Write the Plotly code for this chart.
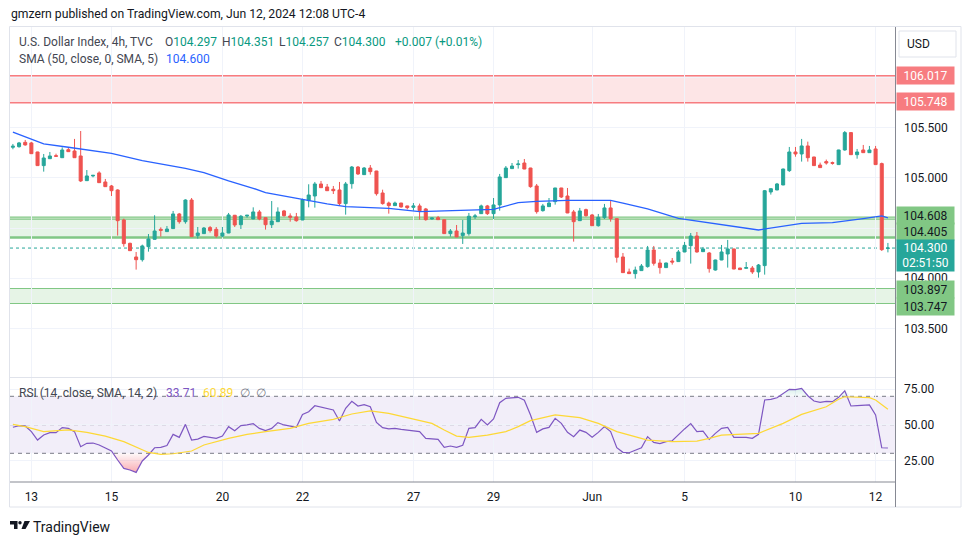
import plotly.graph_objects as go

# ---------------- data ----------------
candle_idx = list(range(143))
opens = [105.305,105.311,105.354,105.348,105.258,105.122,105.191,105.221,105.201,105.281,
         105.268,105.218,104.972,105.019,105.049,104.959,104.919,104.879,104.580,104.347,
         104.211,104.184,104.314,104.387,104.487,104.464,104.494,104.640,104.563,104.779,
         104.424,104.444,104.504,104.487,104.420,104.450,104.627,104.533,104.620,104.590,
         104.660,104.603,104.533,104.563,104.670,104.620,104.610,104.580,104.773,104.819,
         104.939,104.909,104.886,104.879,104.743,104.942,105.108,105.032,105.098,105.068,
         104.849,104.749,104.723,104.749,104.720,104.706,104.720,104.690,104.590,104.603,
         104.583,104.444,104.470,104.424,104.444,104.613,104.643,104.720,104.643,104.730,
         105.002,105.092,105.132,105.148,105.098,104.919,104.673,104.713,104.763,104.899,
         104.819,104.660,104.573,104.683,104.630,104.523,104.603,104.700,104.593,104.211,
         104.062,104.045,104.075,104.115,104.281,104.151,104.105,104.171,104.165,104.261,
         104.324,104.420,104.264,104.251,104.081,104.181,104.241,104.291,104.101,104.098,
         104.101,104.062,104.125,104.859,104.879,104.929,105.072,105.258,105.238,105.318,
         105.208,105.128,105.162,105.152,105.132,105.278,105.451,105.231,105.278,105.251,
         105.288,105.142,104.297]
highs = [105.338,105.358,105.378,105.358,105.260,105.238,105.258,105.241,105.304,105.304,
         105.388,105.467,105.078,105.026,105.065,104.989,104.929,104.886,104.593,104.354,
         104.261,104.334,104.440,104.627,104.507,104.520,104.670,104.650,104.786,104.799,
         104.510,104.510,104.520,104.510,104.510,104.650,104.630,104.630,104.628,104.706,
         104.680,104.605,104.769,104.706,104.680,104.646,104.650,104.793,104.936,104.959,
         104.969,104.939,104.919,104.959,104.959,105.118,105.118,105.108,105.128,105.070,
         104.882,104.763,104.763,104.750,104.722,104.749,104.743,104.700,104.601,104.620,
         104.585,104.490,104.530,104.580,104.650,104.640,104.733,104.730,104.799,105.039,
         105.118,105.148,105.178,105.188,105.100,104.939,104.740,104.799,104.900,104.900,
         104.899,104.680,104.700,104.693,104.640,104.640,104.740,104.769,104.595,104.251,
         104.095,104.115,104.141,104.321,104.321,104.188,104.155,104.201,104.281,104.361,
         104.450,104.460,104.311,104.261,104.184,104.331,104.381,104.293,104.102,104.161,
         104.121,104.141,104.879,104.893,104.949,105.092,105.308,105.308,105.388,105.361,
         105.210,105.152,105.182,105.162,105.280,105.467,105.453,105.288,105.328,105.318,
         105.318,105.152,104.351]
lows = [105.285,105.301,105.321,105.238,105.120,105.062,105.190,105.213,105.200,105.259,
        105.199,104.959,104.970,105.005,104.950,104.910,104.819,104.424,104.314,104.272,
        104.085,104.165,104.264,104.385,104.414,104.462,104.492,104.543,104.543,104.412,
        104.394,104.442,104.454,104.404,104.407,104.448,104.510,104.490,104.603,104.588,
        104.577,104.484,104.500,104.561,104.613,104.563,104.563,104.578,104.706,104.703,
        104.900,104.870,104.839,104.720,104.633,104.892,105.029,105.030,105.032,104.823,
        104.733,104.643,104.720,104.703,104.686,104.673,104.583,104.573,104.583,104.582,
        104.442,104.414,104.409,104.341,104.424,104.590,104.641,104.630,104.590,104.673,
        105.000,105.090,105.092,105.086,104.902,104.643,104.663,104.711,104.733,104.799,
        104.648,104.364,104.571,104.613,104.521,104.514,104.590,104.563,104.155,104.053,
        104.043,103.995,104.073,104.105,104.125,104.045,104.103,104.135,104.163,104.259,
        104.145,104.254,104.262,104.055,104.075,104.179,104.105,104.089,104.083,104.097,
        104.042,104.005,104.035,104.833,104.877,104.927,105.059,105.211,105.162,105.162,
        105.120,105.100,105.132,105.132,105.130,105.271,105.229,105.191,105.249,105.249,
        105.130,104.271,104.257]
closes = [105.315,105.348,105.328,105.241,105.122,105.198,105.218,105.215,105.278,105.261,
          105.201,104.969,105.019,105.025,104.952,104.912,104.872,104.573,104.344,104.274,
          104.184,104.321,104.391,104.470,104.477,104.490,104.640,104.563,104.779,104.414,
          104.450,104.500,104.474,104.420,104.450,104.630,104.530,104.617,104.627,104.660,
          104.590,104.533,104.570,104.660,104.623,104.607,104.573,104.783,104.829,104.939,
          104.902,104.872,104.872,104.743,104.939,105.108,105.039,105.098,105.062,104.842,
          104.743,104.723,104.749,104.710,104.703,104.720,104.673,104.583,104.600,104.583,
          104.444,104.470,104.411,104.450,104.617,104.620,104.720,104.643,104.730,105.009,
          105.098,105.118,105.138,105.088,104.912,104.663,104.720,104.749,104.899,104.809,
          104.650,104.563,104.670,104.623,104.523,104.607,104.700,104.593,104.208,104.055,
          104.045,104.081,104.121,104.281,104.148,104.105,104.151,104.161,104.261,104.327,
          104.420,104.261,104.291,104.095,104.181,104.261,104.291,104.091,104.085,104.105,
          104.062,104.131,104.872,104.892,104.939,105.088,105.258,105.238,105.318,105.201,
          105.122,105.102,105.148,105.145,105.278,105.451,105.231,105.258,105.251,105.278,
          105.132,104.284,104.300]

sma_idx = [0,5,9,16,21,28,31,35,39,41,47,51,54,61,66,70,78,82,85,90,97,99,103,108,115,121,128,133,138,141,142]
sma_val = [105.455,105.338,105.305,105.245,105.172,105.095,105.052,104.969,104.896,104.852,104.786,
           104.740,104.713,104.696,104.663,104.673,104.686,104.753,104.766,104.776,104.776,104.749,
           104.690,104.597,104.530,104.480,104.547,104.553,104.593,104.620,104.600]

rsi_val = [48.3,49.4,49.2,45.2,39.3,42.8,44.5,44.5,48.0,47.5,
           45.2,34.6,37.0,37.2,35.8,33.5,31.6,25.3,19.4,18.3,
           16.6,24.6,28.8,33.9,34.2,35.4,43.3,41.2,50.3,39.3,
           40.0,41.9,41.4,40.5,42.1,48.7,45.9,49.4,49.9,50.8,
           47.5,45.9,47.5,51.5,49.9,49.2,48.2,57.3,59.2,63.4,
           62.3,61.3,60.4,52.7,61.6,66.5,63.2,64.1,62.7,51.7,
           48.0,47.1,47.5,46.8,46.1,45.6,45.2,40.5,40.0,39.8,
           34.2,35.1,34.2,35.6,47.5,48.0,53.8,49.9,54.1,65.5,
           68.6,69.0,69.3,67.2,56.9,44.7,47.1,48.2,54.5,51.0,
           44.7,41.7,46.3,44.7,41.2,44.7,48.7,45.2,33.9,30.7,
           30.4,32.1,33.9,41.7,37.7,36.8,38.2,38.8,43.3,47.1,
           50.8,45.2,45.6,39.8,44.0,47.5,48.2,41.2,41.2,41.2,
           40.5,43.3,67.4,67.9,69.0,72.1,74.9,74.7,75.6,70.4,
           66.7,65.8,66.5,66.2,69.3,73.9,63.2,63.4,63.6,63.9,
           56.9,33.9,33.71]

rsima_idx = [0,2,5,9,12,15,18,22,24,26,29,31,35,38,41,45,48,52,55,58,61,64,68,70,72,74,77,80,82,84,
             88,92,95,98,101,103,107,111,113,115,121,123,125,128,132,134,135,139,140,142]
rsima_val = [50.3,48.7,45.2,46.4,44.7,42.1,38.2,30.6,29.3,29.7,31.6,35.8,40.5,43.3,45.2,47.5,51.0,
             53.8,57.6,59.7,58.0,55.0,51.0,46.3,42.1,41.2,42.8,45.2,48.7,52.9,56.9,55.0,51.0,45.2,
             41.7,39.3,38.2,38.6,40.5,42.8,44.0,47.5,51.0,57.3,62.7,67.9,69.7,69.0,67.4,60.89]

date_tick_idx = [3, 16, 34, 47, 65, 78, 94, 109, 127, 140]
date_tick_lbl = ["13", "15", "20", "22", "27", "29", "Jun", "5", "10", "12"]

price_ticks = [103.5, 104.0, 104.5, 105.0, 105.5, 106.0, 106.5]
price_tick_lbl = ["103.500", "104.000", "", "105.000", "105.500", "", ""]
rsi_ticks = [25, 50, 75]
rsi_tick_lbl = ["25.00", "50.00", "75.00"]

resist_zone = [105.748, 106.017]
support_zone = [104.405, 104.608]
support_zone_mid = 104.588
lower_zone = [103.747, 103.897]
rsi_levels = [30, 50, 70]
last_price = closes[-1]

# ---------------- geometry helpers ----------------
L, R, T, B = 10, 895, 27, 482
W, H = R - L, B - T
def px(x):
    return (x - L) / W
def py(y):
    return (B - y) / H

FONT = "Roboto, 'Open Sans', sans-serif"
UP, DOWN = "#26A69A", "#EF5350"

fig = go.Figure()

fig.add_trace(go.Candlestick(
    x=candle_idx, open=opens, high=highs, low=lows, close=closes,
    increasing=dict(line=dict(color=UP, width=1), fillcolor=UP),
    decreasing=dict(line=dict(color=DOWN, width=1), fillcolor=DOWN),
    whiskerwidth=0, xaxis="x", yaxis="y", hoverinfo="skip"))

fig.add_trace(go.Scatter(x=sma_idx, y=sma_val, mode="lines",
                         line=dict(color="#2962FF", width=1.3), xaxis="x", yaxis="y", hoverinfo="skip"))

n = len(rsi_val)
lo = [min(v, 30) for v in rsi_val]
hi = [max(v, 70) for v in rsi_val]
fig.add_trace(go.Scatter(x=candle_idx, y=[30] * n, mode="lines", line=dict(width=0), yaxis="y2", hoverinfo="skip"))
fig.add_trace(go.Scatter(x=candle_idx, y=lo, mode="lines", line=dict(width=0), yaxis="y2", fill="tonexty",
                         fillgradient=dict(type="vertical", start=10, stop=30,
                                           colorscale=[[0, "rgba(242,54,69,0.6)"], [1, "rgba(242,54,69,0.03)"]]),
                         hoverinfo="skip"))
fig.add_trace(go.Scatter(x=candle_idx, y=[70] * n, mode="lines", line=dict(width=0), yaxis="y2", hoverinfo="skip"))
fig.add_trace(go.Scatter(x=candle_idx, y=hi, mode="lines", line=dict(width=0), yaxis="y2", fill="tonexty",
                         fillgradient=dict(type="vertical", start=70, stop=90,
                                           colorscale=[[0, "rgba(8,153,129,0.03)"], [1, "rgba(8,153,129,0.5)"]]),
                         hoverinfo="skip"))
fig.add_trace(go.Scatter(x=candle_idx, y=rsi_val, mode="lines", line=dict(color="#7E57C2", width=1.2),
                         yaxis="y2", hoverinfo="skip"))
fig.add_trace(go.Scatter(x=rsima_idx, y=rsima_val, mode="lines", line=dict(color="#FDD835", width=1.2),
                         yaxis="y2", hoverinfo="skip"))

shapes = []
# zones
shapes.append(dict(type="rect", xref="paper", yref="y", x0=0, x1=1, y0=resist_zone[0], y1=resist_zone[1],
                   fillcolor="rgba(247,124,128,0.2)", line=dict(width=0), layer="below"))
for lv in resist_zone:
    shapes.append(dict(type="line", xref="paper", yref="y", x0=0, x1=1, y0=lv, y1=lv,
                       line=dict(color="#F77C80", width=1.5), layer="between"))
shapes.append(dict(type="rect", xref="paper", yref="y", x0=0, x1=1, y0=support_zone[0], y1=support_zone[1],
                   fillcolor="rgba(129,199,132,0.2)", line=dict(width=0), layer="below"))
shapes.append(dict(type="line", xref="paper", yref="y", x0=0, x1=1, y0=support_zone[1], y1=support_zone[1],
                   line=dict(color="#81C784", width=1.2), layer="between"))
shapes.append(dict(type="line", xref="paper", yref="y", x0=0, x1=1, y0=support_zone_mid, y1=support_zone_mid,
                   line=dict(color="#81C784", width=1.2), layer="between"))
shapes.append(dict(type="line", xref="paper", yref="y", x0=0, x1=1, y0=support_zone[0], y1=support_zone[0],
                   line=dict(color="#81C784", width=2.5), layer="between"))
shapes.append(dict(type="rect", xref="paper", yref="y", x0=0, x1=1, y0=lower_zone[0], y1=lower_zone[1],
                   fillcolor="rgba(129,199,132,0.2)", line=dict(width=0), layer="below"))
for lv in lower_zone:
    shapes.append(dict(type="line", xref="paper", yref="y", x0=0, x1=1, y0=lv, y1=lv,
                       line=dict(color="#81C784", width=1.2), layer="between"))
# last price dotted line
shapes.append(dict(type="line", xref="paper", yref="y", x0=0, x1=1, y0=last_price, y1=last_price,
                   line=dict(color=UP, width=1, dash="dot"), layer="between"))
# RSI band + levels
shapes.append(dict(type="rect", xref="paper", yref="y2", x0=0, x1=1, y0=rsi_levels[0], y1=rsi_levels[2],
                   fillcolor="rgba(126,87,194,0.1)", line=dict(width=0), layer="below"))
for lv in rsi_levels:
    col = "rgba(120,123,134,0.55)" if lv == 50 else "#787B86"
    shapes.append(dict(type="line", xref="paper", yref="y2", x0=0, x1=1, y0=lv, y1=lv,
                       line=dict(color=col, width=1, dash="4px,4px"), layer="between"))
# frame and separators
shapes.append(dict(type="rect", xref="paper", yref="paper", x0=px(9.5), x1=px(961), y0=py(26.5), y1=py(507),
                   line=dict(color="#E0E3EB", width=1), layer="below"))
shapes.append(dict(type="line", xref="paper", yref="paper", x0=0, x1=1, y0=py(377.5), y1=py(377.5),
                   line=dict(color="#E0E3EB", width=1)))
shapes.append(dict(type="line", xref="paper", yref="paper", x0=px(895.5), x1=px(895.5), y0=py(27), y1=py(507),
                   line=dict(color="#868993", width=1)))
shapes.append(dict(type="line", xref="paper", yref="paper", x0=0, x1=px(895.5), y0=py(482), y1=py(482),
                   line=dict(color="#868993", width=1)))
# USD button
shapes.append(dict(type="rect", xref="paper", yref="paper", x0=px(899), x1=px(956), y0=py(31), y1=py(57),
                   line=dict(color="#E0E3EB", width=1), fillcolor="white"))
# TradingView logo glyph
def path(pts):
    return "M " + " L ".join(f"{px(a)},{py(b)}" for a, b in pts) + " Z"
shapes.append(dict(type="path", xref="paper", yref="paper", path=path([(10, 521), (17.5, 521), (17.5, 529), (14, 529), (14, 524.5), (10, 524.5)]),
                   fillcolor="#131722", line=dict(width=0)))
shapes.append(dict(type="circle", xref="paper", yref="paper", x0=px(18.3), x1=px(21.7), y0=py(521), y1=py(524.4),
                   fillcolor="#131722", line=dict(width=0)))
shapes.append(dict(type="path", xref="paper", yref="paper", path=path([(24.5, 521), (30, 521), (25.5, 529), (21.5, 529)]),
                   fillcolor="#131722", line=dict(width=0)))

ann = []
def txt(x, y, s, color="#131722", size=12, anchor="left"):
    ann.append(dict(xref="paper", yref="paper", x=px(x), y=py(y), text=s, showarrow=False,
                    xanchor=anchor, yanchor="middle", font=dict(family=FONT, size=size, color=color)))

TEAL = "#089981"
txt(9, 13.5, "gmzern published on TradingView.com, Jun 12, 2024 12:08 UTC-4", "#131722", 12.2)
txt(17, 42, "U.S. Dollar Index, 4h, TVC", "#434651")
txt(163, 42, f"O<span style='color:{TEAL}'>104.297</span>", "#434651")
txt(220, 42, f"H<span style='color:{TEAL}'>104.351</span>", "#434651")
txt(277, 42, f"L<span style='color:{TEAL}'>104.257</span>", "#434651")
txt(332, 42, f"C<span style='color:{TEAL}'>104.300</span>", "#434651")
txt(393, 42, "+0.007 (+0.01%)", TEAL)
txt(17, 59, "SMA (50, close, 0, SMA, 5)", "#434651")
txt(164, 59, "104.600", "#2962FF")
txt(17, 393, "RSI (14, close, SMA, 14, 2)", "#434651")
txt(164, 393, "33.71", "#7E57C2")
txt(201, 393, "60.89", "#FDD835")
txt(238, 393, "∅", "#787B86")
txt(254, 393, "∅", "#787B86")
txt(905, 44, "USD", "#131722", 12)
txt(31, 527, "TradingView", "#131722", 14)

def plabel(level, text, bg, fg, yshift, height=17):
    ann.append(dict(xref="paper", yref="y", x=px(896), y=level, xanchor="left", yanchor="middle",
                    yshift=yshift, text=text, showarrow=False, bgcolor=bg, borderpad=0,
                    width=57, height=height, align="center",
                    font=dict(family=FONT, size=12, color=fg)))

plabel(resist_zone[1], "106.017", "#F77C80", "white", 0.5)
plabel(resist_zone[0], "105.748", "#F77C80", "white", 1)
plabel(support_zone[1], "104.608", "#81C784", "#131722", 2)
plabel(support_zone[0], "104.405", "#81C784", "#131722", 6)
plabel(last_price, "104.300<br>02:51:50", UP, "white", -7, 31)
plabel(lower_zone[1], "103.897", "#81C784", "#131722", -1.5)
plabel(lower_zone[0], "103.747", "#81C784", "#131722", -3)

GRID = "#F0F3FA"
fig.update_layout(
    width=970, height=545,
    margin=dict(l=L, r=970 - R, t=T, b=545 - B, pad=0),
    paper_bgcolor="white", plot_bgcolor="white",
    showlegend=False, hovermode=False,
    font=dict(family=FONT, size=12, color="#131722"),
    xaxis=dict(range=[-0.47, 143.15], anchor="y2", tickmode="array", tickvals=date_tick_idx,
               ticktext=date_tick_lbl, showgrid=True, gridcolor=GRID, zeroline=False,
               showline=False, ticks="", ticklabelstandoff=6, rangeslider=dict(visible=False),
               tickfont=dict(family=FONT, size=12, color="#131722")),
    yaxis=dict(domain=[(B - 377) / H, 1], range=[103.0144, 106.504], side="right", anchor="x",
               tickmode="array", tickvals=price_ticks, ticktext=price_tick_lbl,
               showgrid=True, gridcolor=GRID, zeroline=False, ticks="", ticklabelstandoff=8,
               tickfont=dict(family=FONT, size=12, color="#131722")),
    yaxis2=dict(domain=[0, (B - 378) / H], range=[9.86, 82.84], side="right", anchor="x",
                tickmode="array", tickvals=rsi_ticks, ticktext=rsi_tick_lbl,
                showgrid=True, gridcolor=GRID, zeroline=False, ticks="", ticklabelstandoff=8,
                tickfont=dict(family=FONT, size=12, color="#131722")),
    shapes=shapes, annotations=ann,
)

fig.write_html("out.html", config={"displayModeBar": False},
               post_script="document.body.style.margin='0px';document.body.style.overflow='hidden';")
